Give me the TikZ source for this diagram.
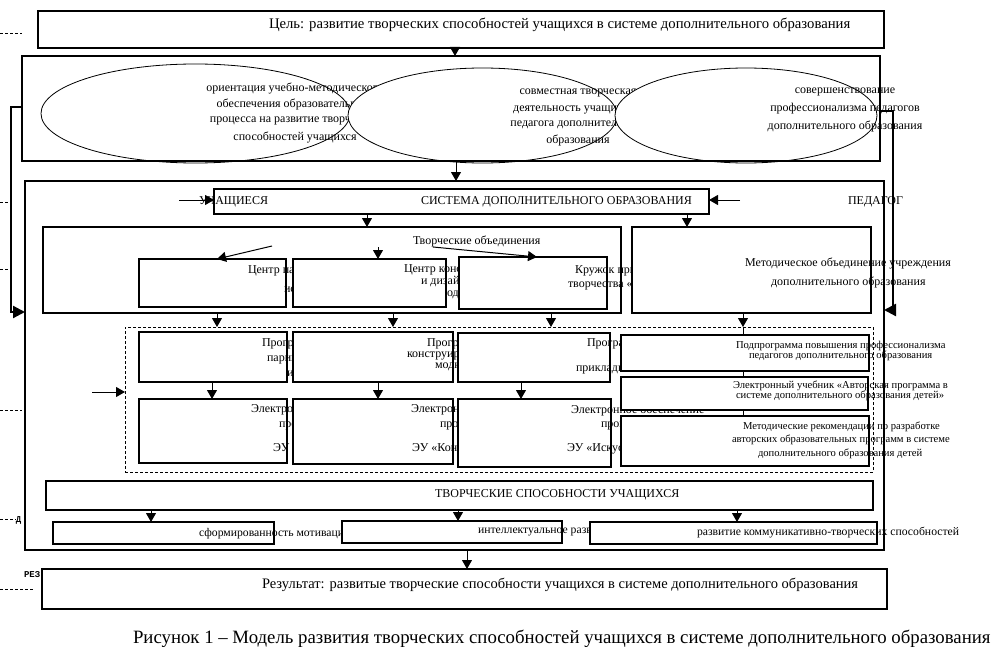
\documentclass[tikz,border=0pt]{standalone}
\usepackage{fontspec}
\setmainfont{Liberation Serif}
\newfontfamily\monof{Liberation Mono}
\usetikzlibrary{arrows.meta,shapes.geometric}
\newcommand{\fsz}[1]{\fontsize{#1}{#1}\selectfont}
\newcommand{\mybox}[6]{\node[#6, minimum width={#4pt-#2pt}, minimum height={#5pt-#3pt}, anchor=north west] (#1) at (#2,#3) {};}
\tikzset{
  thickbox/.style={draw, line width=2.8pt, inner sep=0pt, outer sep=0pt},
  thinbox/.style={draw, line width=1.1pt, fill=white, inner sep=0pt, outer sep=0pt},
  dashbox/.style={draw, line width=0.8pt, dash pattern=on 3pt off 2pt, inner sep=0pt, outer sep=0pt},
  ell/.style={ellipse, draw, line width=0.8pt, fill=white, inner sep=0pt, outer sep=0pt},
  txt/.style={inner sep=0pt, outer sep=0pt, anchor=base west},
  ctxt/.style={inner sep=0pt, outer sep=0pt, anchor=base},
  arr/.style={line width=1pt, -{Triangle[width=10pt,length=9pt]}},
  conn/.style={line width=2.2pt, -{Triangle[width=12pt,length=12pt]}},
  dashln/.style={line width=0.8pt, dash pattern=on 3pt off 2pt},
  plainln/.style={line width=0.8pt}
}
\begin{document}
\begin{tikzpicture}[x=1pt,y=-1pt]
\useasboundingbox (0,0) rectangle (997,661);

% left edge marks
\coordinate (m1a) at (0,33);  \coordinate (m1b) at (22,33);
\coordinate (m2a) at (0,202); \coordinate (m2b) at (11,202);
\coordinate (m3a) at (0,269); \coordinate (m3b) at (11,269);
\coordinate (m4a) at (0,410); \coordinate (m4b) at (22,410);
\coordinate (m5a) at (0,519); \coordinate (m5b) at (16,519);
\coordinate (m6a) at (0,589); \coordinate (m6b) at (33,589);
\draw[dashln] (m1a) -- (m1b);
\draw[dashln] (m2a) -- (m2b);
\draw[dashln] (m3a) -- (m3b);
\draw[dashln] (m4a) -- (m4b);
\draw[dashln] (m5a) -- (m5b);
\draw[dashln] (m6a) -- (m6b);
\node[txt, font=\monof\bfseries\fsz{9}] (lblD) at (16,522) {Д};
\node[txt, font=\monof\bfseries\fsz{9}] (lblR) at (24,577) {РЕЗ};

% goal
\mybox{goal}{38}{11}{884}{48}{thickbox}
\node[txt, font=\fsz{14.7}] (goalt) at (269,29) {Цель: развитие творческих способностей учащихся в системе дополнительного образования};

% ellipses
\node[ell, minimum width=309pt, minimum height=99pt] (el1) at (195.5,113.5) {};
\node[ctxt, font=\fsz{12}] (e1a) at (295,92) {ориентация учебно-методического};
\node[ctxt, font=\fsz{12}] (e1b) at (295,108) {обеспечения образовательного};
\node[ctxt, font=\fsz{12}] (e1c) at (295,123) {процесса на развитие творческих};
\node[ctxt, font=\fsz{12}] (e1d) at (295,140) {способностей учащихся};
\node[ell, minimum width=269pt, minimum height=95pt] (el2) at (482.5,115.5) {};
\node[ctxt, font=\fsz{12}] (e2a) at (578,95) {совместная творческая};
\node[ctxt, font=\fsz{12}] (e2b) at (578,111) {деятельность учащихся и};
\node[ctxt, font=\fsz{12}] (e2c) at (578,126) {педагога дополнительного};
\node[ctxt, font=\fsz{12}] (e2d) at (578,143) {образования};
\node[ell, minimum width=262pt, minimum height=95pt] (el3) at (746,115.5) {};
\mybox{ellbox}{22}{56}{880}{161}{thickbox}
\node[ctxt, font=\fsz{12}] (e3a) at (845,94) {совершенствование};
\node[ctxt, font=\fsz{12}] (e3b) at (845,111) {профессионализма педагогов};
\node[ctxt, font=\fsz{12}] (e3c) at (845,129) {дополнительного образования};

% system row
\mybox{sys}{214}{189}{709}{214}{thinbox}
\coordinate (uin) at (179,200);
\coordinate (pin) at (740,200);
\draw[arr] (uin) -- (sys.west |- uin);
\draw[arr] (pin) -- (sys.east |- pin);
\node[txt, font=\fsz{12}] (uch) at (199,204) {УЧАЩИЕСЯ};
\node[txt, font=\fsz{12}] (syst) at (421,204) {СИСТЕМА ДОПОЛНИТЕЛЬНОГО ОБРАЗОВАНИЯ};
\node[txt, font=\fsz{12}] (ped) at (848,204) {ПЕДАГОГ};

% creative associations
\mybox{tvo}{43}{227}{621}{313}{thinbox}
\node[txt, font=\fsz{12}] (tvot) at (413,244) {Творческие объединения};
\mybox{bA}{139}{259}{286}{307}{thinbox}
\node[txt, font=\fsz{12}] (bAa) at (248,273) {Центр парикмахерского};
\node[txt, font=\fsz{12}] (bAb) at (284,292) {искусства};
\mybox{bB}{293}{259}{446}{307}{thinbox}
\node[txt, font=\fsz{12}] (bBa) at (404,272) {Центр конструирования};
\node[txt, font=\fsz{12}] (bBb) at (421,284) {и дизайна};
\node[txt, font=\fsz{12}] (bBc) at (447,296.5) {одежды};
\mybox{bC}{459}{257}{607}{309}{thinbox}
\node[txt, font=\fsz{12}] (bCa) at (575,273) {Кружок прикладного};
\node[txt, font=\fsz{12}] (bCb) at (568,287) {творчества «};
\mybox{met}{632}{227}{871}{313}{thinbox}
\node[txt, font=\fsz{12}] (meta) at (745,266) {Методическое объединение учреждения};
\node[txt, font=\fsz{12}] (metb) at (771,285) {дополнительного образования};
\coordinate (ia1) at (272,246);
\coordinate (ia2) at (378,247);
\coordinate (ia3) at (433,247);

% programmes (dashed frame)
\mybox{dbox}{125}{327}{873}{472}{dashbox}
\coordinate (din) at (92,392);
\mybox{pA}{139}{332}{287}{382}{thinbox}
\node[txt, font=\fsz{12}] (pAa) at (262,346) {Программа};
\node[txt, font=\fsz{12}] (pAb) at (267,361) {парикмахерского};
\node[txt, font=\fsz{12}] (pAc) at (287,376) {искусства};
\mybox{pB}{293}{332}{453}{382}{thinbox}
\node[txt, font=\fsz{12}] (pBa) at (427,346) {Программа};
\node[txt, font=\fsz{12}] (pBb) at (407,357) {конструирования};
\node[txt, font=\fsz{12}] (pBc) at (435,368) {модной};
\mybox{pC}{458}{333}{610}{382}{thinbox}
\node[txt, font=\fsz{12}] (pCa) at (587,346) {Программа};
\node[txt, font=\fsz{12}] (pCb) at (576,371) {прикладного};
\mybox{qA}{139}{399}{287}{463}{thinbox}
\node[txt, font=\fsz{12}] (qAa) at (251,412) {Электронное};
\node[txt, font=\fsz{12}] (qAb) at (279,427) {программы};
\node[txt, font=\fsz{12}] (qAc) at (273,451) {ЭУ};
\mybox{qB}{293}{399}{453}{464}{thinbox}
\node[txt, font=\fsz{12}] (qBa) at (411,412) {Электронное};
\node[txt, font=\fsz{12}] (qBb) at (440,427) {программы};
\node[txt, font=\fsz{12}] (qBc) at (412,451) {ЭУ «Конструирование};
\mybox{qC}{458}{399}{611}{467}{thinbox}
\node[txt, font=\fsz{12}] (qCa) at (571,413) {Электронное обеспечение};
\node[txt, font=\fsz{12}] (qCb) at (601,427) {программы};
\node[txt, font=\fsz{12}] (qCc) at (567,451) {ЭУ «Искусство};
\coordinate (vline) at (743,466);
\draw[plainln] (dbox.north -| vline) -- (vline);
\mybox{rA}{621}{335}{869}{371}{thinbox}
\node[txt, font=\fsz{10.6}] (rAa) at (736,348) {Подпрограмма повышения профессионализма};
\node[txt, font=\fsz{10.6}] (rAb) at (749,358) {педагогов дополнительного образования};
\mybox{rB}{621}{377}{868}{410}{thinbox}
\node[txt, font=\fsz{10.6}] (rBa) at (733,388) {Электронный учебник «Авторская программа в};
\node[txt, font=\fsz{10.6}] (rBb) at (736,398) {системе дополнительного образования детей»};
\mybox{rC}{621}{416}{869}{466}{thinbox}
\node[txt, font=\fsz{10.6}] (rCa) at (743,429) {Методические рекомендации по разработке};
\node[txt, font=\fsz{10.6}] (rCb) at (732,442) {авторских образовательных программ в системе};
\node[txt, font=\fsz{10.6}] (rCc) at (758,456) {дополнительного образования детей};

% abilities
\mybox{abil}{46}{481}{873}{510}{thickbox}
\node[txt, font=\fsz{12}] (abilt) at (435,497) {ТВОРЧЕСКИЕ СПОСОБНОСТИ УЧАЩИХСЯ};
\mybox{sA}{53}{522}{274}{544}{thinbox}
\node[txt, font=\fsz{11.7}] (sAt) at (199,536) {сформированность мотивации};
\mybox{sB}{342}{521}{562}{543}{thinbox}
\node[txt, font=\fsz{11.7}] (sBt) at (478,533) {интеллектуальное развитие};
\mybox{sC}{590}{522}{877}{544}{thinbox}
\node[txt, font=\fsz{11.7}] (sCt) at (697,535) {развитие коммуникативно-творческих способностей};

% outer frame
\mybox{outer}{25}{181}{884}{550}{thickbox}

% result and caption
\mybox{res}{42}{569}{887}{609}{thickbox}
\node[txt, font=\fsz{14.5}] (rest) at (262,588) {Результат: развитые творческие способности учащихся в системе дополнительного образования};
\node[txt, font=\fsz{18.8}] (capt) at (133,643) {Рисунок 1 – Модель развития творческих способностей учащихся в системе дополнительного образования};

% arrows
\draw[arr] (goal.south -| 455,0) -- (ellbox.north -| 455,0);
\draw[arr] (ellbox.south -| 456,0) -- (outer.north -| 456,0);
\draw[arr] (sys.south -| 367,0) -- (tvo.north -| 367,0);
\draw[arr] (sys.south -| 687,0) -- (met.north -| 687,0);
\draw[arr] (ia1) -- (bA.north -| 217,0);
\draw[arr] (ia2) -- (bB.north -| ia2);
\draw[arr] (ia3) -- (bC.north -| 537,0);
\draw[arr] (tvo.south -| 217,0) -- (dbox.north -| 217,0);
\draw[arr] (tvo.south -| 393,0) -- (dbox.north -| 393,0);
\draw[arr] (tvo.south -| 551,0) -- (dbox.north -| 551,0);
\draw[arr] (met.south -| 743,0) -- (dbox.north -| 743,0);
\draw[arr] (din) -- (dbox.west |- din);
\draw[arr] (pA.south -| 212,0) -- (qA.north -| 212,0);
\draw[arr] (pB.south -| 378,0) -- (qB.north -| 378,0);
\draw[arr] (pC.south -| 521,0) -- (qC.north -| 521,0);
\draw[arr] (abil.south -| 151,0) -- (sA.north -| 151,0);
\draw[arr] (abil.south -| 458,0) -- (sB.north -| 458,0);
\draw[arr] (abil.south -| 737,0) -- (sC.north -| 737,0);
\draw[arr] (outer.south -| 467,0) -- (res.north -| 467,0);

% side connectors
\coordinate (lc1) at (11,107);
\coordinate (lc2) at (11,312);
\coordinate (rc1) at (893,111);
\coordinate (rc2) at (893,310);
\draw[conn] (ellbox.west |- lc1) -- (lc1) -- (lc2) -- (outer.west |- lc2);
\draw[conn] (ellbox.east |- rc1) -- (rc1) -- (rc2) -- (outer.east |- rc2);
\end{tikzpicture}
\end{document}
